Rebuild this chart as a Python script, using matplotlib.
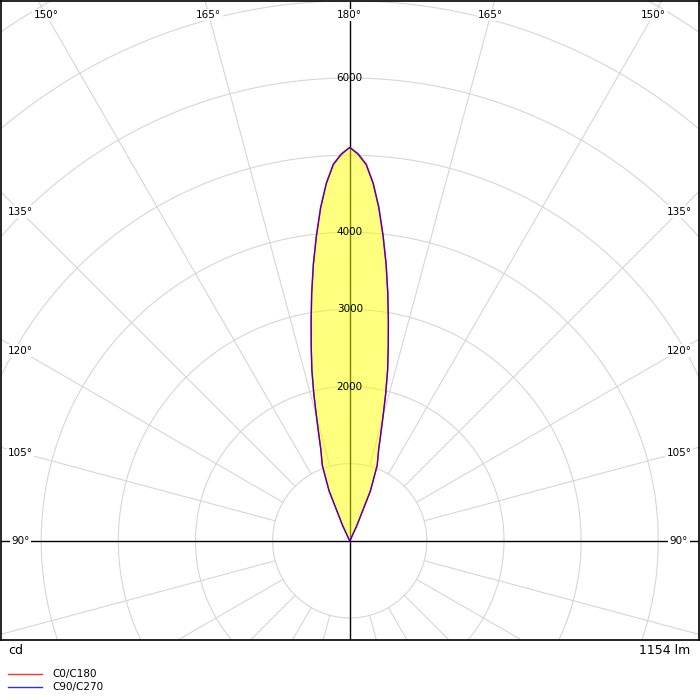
import numpy as np
import matplotlib.pyplot as plt

# gamma angles (deg) and luminous intensity (cd) for the two C-plane pairs
gamma = [180, 178.75, 177.5, 176.25, 175, 173.75, 172.5, 171.25, 170, 168.75, 167.5,
         166.25, 165, 163.75, 162.5, 160, 157.5, 155, 152.5, 150]
c0_c180 = [5100, 5010, 4880, 4640, 4330, 3970, 3610, 3240, 2880, 2560, 2270,
           1960, 1660, 1430, 1250, 1040, 700, 220, 30, 0]
c90_c270 = [5100, 5020, 4890, 4650, 4340, 3980, 3620, 3250, 2890, 2560, 2270,
            1960, 1670, 1440, 1250, 1040, 700, 220, 30, 0]
flux_label = "1154 lm"
unit_label = "cd"
legend_names = ["C0/C180", "C90/C270"]
legend_colors = ["#ff3030", "#3030e0"]

ring_values = [1000, 2000, 3000, 4000, 5000, 6000, 7000, 8000, 9000]
ring_labels = [2000, 3000, 4000, 6000]
side_angles = [90, 105, 120, 135]
top_angles = [150, 165, 180]

# scale: 7000 cd at the top of the frame
xmax, ymax, ymin = 4528, 7000, -1281

fig = plt.figure(figsize=(7, 7), dpi=100)
ax = fig.add_axes([0.5 / 700, 60 / 700, 698.5 / 700, 639.5 / 700])
ax.set_xlim(-xmax, xmax)
ax.set_ylim(ymin, ymax)
ax.set_aspect('equal', adjustable='box')
ax.set_xticks([])
ax.set_yticks([])
for s in ax.spines.values():
    s.set_linewidth(1.2)

grey = '#d6d6d6'
t = np.linspace(0, 2 * np.pi, 400)
for r in ring_values:
    ax.plot(r * np.cos(t), r * np.sin(t), color=grey, lw=0.8, zorder=1)

# radial lines every 15 degrees from the first ring outward
for a in range(0, 360, 15):
    if a % 90 == 0:
        continue
    th = np.radians(a)
    ax.plot([1000 * np.sin(th), 12000 * np.sin(th)],
            [-1000 * np.cos(th), -12000 * np.cos(th)], color=grey, lw=0.8, zorder=1)

ax.axhline(0, color='black', lw=1, zorder=2)
ax.axvline(0, color='black', lw=1, zorder=2)

# curves
def closed_curve(vals):
    g = np.radians(gamma)
    v = np.array(vals)
    xl = -v * np.sin(g)
    yl = -v * np.cos(g)
    xs = np.concatenate([xl[::-1], -xl])
    ys = np.concatenate([yl[::-1], yl])
    return xs, ys

x1, y1 = closed_curve(c0_c180)
x2, y2 = closed_curve(c90_c270)
ax.fill(x1, y1, color='yellow', alpha=0.5, lw=0, zorder=3)
ax.plot(x1, y1, color='red', lw=1, zorder=4)
ax.plot(x2, y2, color='blue', lw=1, alpha=0.7, zorder=5)

# intensity labels
for v in ring_labels:
    ax.text(0, v, str(v), ha='center', va='center', fontsize=7.5, zorder=6)

# angle labels
box = dict(facecolor='white', edgecolor='none', pad=1)
xl = xmax - 20 / 77.29 * 1000
for a in side_angles:
    y = xl * (-np.cos(np.radians(a))) / np.sin(np.radians(a))
    for sgn in (-1, 1):
        ax.text(sgn * xl, y, f"{a}°", ha='center', va='center', fontsize=7.5,
                bbox=box, zorder=6)
yt = ymax - 14 / 77.29 * 1000
for a in top_angles:
    x = yt * np.tan(np.radians(180 - a))
    for sgn in ((-1, 1) if a != 180 else (1,)):
        ax.text(sgn * x, yt, f"{a}°", ha='center', va='center', fontsize=7.5,
                bbox=box, zorder=6)

fig.text(8 / 700, 1 - 650 / 700, unit_label, ha='left', va='center', fontsize=9)
fig.text(690 / 700, 1 - 650 / 700, flux_label, ha='right', va='center', fontsize=9)

for i, (name, col) in enumerate(zip(legend_names, legend_colors)):
    yy = 1 - (674 + 13 * i) / 700
    fig.add_artist(plt.Line2D([8 / 700, 42 / 700], [yy, yy], color=col, lw=1))
    fig.text(52 / 700, yy, name, ha='left', va='center', fontsize=7.5)

fig.savefig('out.png', dpi=100)
